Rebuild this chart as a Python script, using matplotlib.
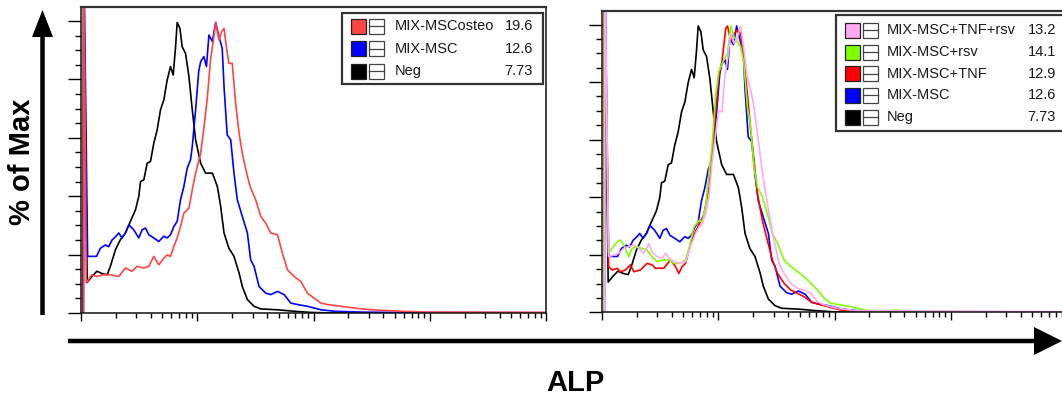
import matplotlib
matplotlib.use("Agg")
import matplotlib.pyplot as plt
from matplotlib.patches import Rectangle, FancyArrow
from matplotlib.lines import Line2D
from matplotlib.ticker import MultipleLocator, LogLocator, NullFormatter

plt.rcParams['font.family'] = ['Liberation Sans', 'DejaVu Sans']

# ---------------- data (ALP intensity, % of max) ----------------
neg_x = [1.04, 1.05, 1.13, 1.24, 1.37, 1.52, 1.68, 1.79, 1.98, 2.18, 2.41, 2.66,
         2.94, 3.14, 3.25, 3.47, 3.71, 3.96, 4.23, 4.52, 4.83, 5.16,
         5.51, 5.89, 6.21, 6.51, 6.72, 7.09, 7.42, 7.93, 8.48, 9.06,
         9.68, 10.7, 11.8, 13.5, 14.9, 15.9, 17.0, 18.7, 20.7, 22.9,
         24.4, 27.0, 30.8, 35.2, 49.0, 68.1, 94.8, 132, 10000]
neg_y = [0, 120, 10.5, 12.5, 14.3, 13.5, 13.1, 16.0, 21.7, 25.1, 27.4, 31.4,
         35.3, 39.9, 45.0, 45.6, 51.3, 51.9, 58.2, 62.7, 69.6, 73.0,
         79.8, 84.4, 81.5, 91.2, 99.5, 97.5, 91.2, 88.9, 81.0, 69.6,
         59.3, 51.3, 47.9, 47.9, 43.3, 36.5, 27.4, 22.2, 19.4, 13.7,
         9.1, 4.6, 2.3, 1.4, 1.1, 0.6, 0.2, 0.05, 0.05]

msc_x = [1.05, 1.06, 1.14, 1.36, 1.47, 1.62, 1.73, 1.85, 1.98, 2.11, 2.26, 2.41,
         2.58, 2.84, 3.14, 3.36, 3.59, 3.83, 4.23, 4.67, 5.16, 5.51,
         5.89, 6.29, 6.72, 7.18, 7.67, 8.20, 8.76, 9.06, 9.68, 10.3,
         10.7, 11.4, 12.0, 12.6, 13.5, 14.4, 15.4, 16.4, 17.0, 18.1,
         19.4, 20.7, 22.1, 24.4, 27.0, 28.8, 30.8, 34.0, 38.8, 42.9,
         49.0, 55.9, 63.8, 72.8, 88.7, 116, 151, 256, 496, 10000]
msc_y = [0, 120, 19.4, 19.4, 22.2, 23.3, 22.7, 25.0, 26.1, 27.4, 25.7, 27.4,
         30.2, 28.5, 25.7, 28.5, 29.1, 26.8, 25.7, 24.5, 26.3, 25.7,
         26.8, 29.6, 31.4, 38.8, 43.3, 49.6, 52.5, 57.0, 69.6, 82.8,
         86.1, 87.8, 84.4, 95.2, 93.0, 99.5, 94.6, 90.6, 77.5, 61.0,
         59.3, 47.9, 38.8, 33.1, 27.4, 18.2, 16.0, 9.1, 6.8, 6.3,
         7.4, 6.3, 3.4, 2.9, 2.3, 1.1, 0.6, 0.3, 0.2, 0.1]

osteo_x = [1.05, 1.06, 1.11, 1.24, 1.37, 1.57, 1.79, 2.11, 2.41, 2.75, 3.04, 3.47,
           3.83, 4.23, 4.67, 5.16, 5.51, 5.89, 6.29, 6.72, 7.18, 7.67,
           8.48, 9.06, 9.68, 10.7, 11.4, 12.2, 13.0, 13.9, 14.4, 15.4,
           16.2, 17.0, 17.8, 18.7, 20.0, 21.4, 22.9, 24.4, 27.0, 28.8,
           31.8, 35.2, 38.8, 42.9, 49.0, 54.0, 59.7, 68.1, 77.8, 88.7,
           101, 116, 132, 172, 224, 312, 566, 961, 10000]
osteo_y = [0, 120, 10.3, 13.1, 12.5, 13.1, 13.1, 12.5, 15.4, 14.3, 16.0, 15.4,
           16.0, 19.4, 16.5, 18.8, 19.9, 19.4, 22.8, 25.7, 29.6, 34.2,
           35.9, 42.2, 47.9, 54.7, 63.3, 73.6, 86.7, 94.6, 99.5, 93.5,
           96.4, 97.5, 91.2, 85.5, 85.5, 71.8, 61.6, 54.7, 46.8, 42.8,
           38.8, 33.1, 30.8, 27.4, 26.8, 20.5, 14.8, 12.5, 10.8, 6.8,
           5.1, 3.4, 2.9, 2.3, 1.7, 1.1, 0.6, 0.3, 0.2]

rsv_x = [1.04, 1.05, 1.14, 1.22, 1.35, 1.44, 1.54, 1.70, 1.81, 2.00, 2.21, 2.44,
         2.70, 2.98, 3.40, 3.75, 4.15, 4.73, 5.23, 5.59, 6.17, 6.81,
         7.28, 7.78, 8.31, 8.87, 9.48, 10.1, 10.8, 12.0, 12.8, 13.7,
         14.6, 15.6, 16.6, 17.8, 19.0, 20.3, 21.7, 23.9, 26.4, 29.2,
         32.3, 36.8, 42.0, 48.0, 54.8, 62.5, 71.3, 81.5, 92.9, 113,
         138, 180, 251, 349, 373, 10000]
rsv_y = [0, 120, 20.5, 22.2, 24.5, 25.1, 23.4, 19.3, 22.2, 22.8, 22.2, 21.6,
         19.3, 17.6, 18.2, 18.2, 17.0, 17.0, 18.2, 22.2, 29.6, 31.9,
         31.4, 36.6, 48.2, 58.6, 74.9, 83.6, 86.5, 89.9, 99.5, 95.7,
         94.0, 92.2, 86.5, 71.4, 64.5, 50.6, 43.6, 40.2, 34.4, 27.4,
         24.0, 18.2, 15.9, 14.2, 12.4, 10.1, 7.75, 4.86, 3.13, 2.55,
         1.97, 0.81, 0.23, 0.81, 0.23, 0.1]

tnf_x = [1.04, 1.05, 1.14, 1.22, 1.35, 1.44, 1.59, 1.75, 1.88, 2.14, 2.44, 2.70,
         2.88, 3.40, 3.88, 4.29, 4.58, 4.89, 5.23, 5.77, 6.17, 6.81,
         7.52, 8.31, 8.87, 9.48, 10.1, 10.8, 11.6, 12.0, 12.8, 13.7,
         14.6, 15.6, 16.6, 17.8, 19.0, 20.3, 21.7, 23.9, 26.4, 29.2,
         32.3, 36.8, 42.0, 48.0, 54.8, 62.5, 71.3, 87.1, 113, 158,
         10000]
tnf_y = [0, 120, 15.9, 14.7, 15.3, 14.1, 14.7, 16.5, 14.1, 14.7, 17.0, 16.5,
         15.3, 15.3, 18.2, 15.9, 13.5, 15.9, 17.0, 23.5, 27.0, 30.4,
         33.9, 43.2, 56.0, 69.1, 81.8, 87.6, 98.6, 99.5, 94.6, 96.9,
         98.0, 96.9, 87.6, 76.0, 63.4, 53.0, 41.3, 32.1, 25.1, 18.2,
         13.5, 10.1, 7.75, 6.6, 5.4, 3.7, 2.9, 1.97, 0.81, 0.23,
         0.1]

tnfrsv_x = [1.05, 1.06, 1.14, 1.26, 1.39, 1.54, 1.70, 1.88, 2.07, 2.29, 2.53, 2.70,
            2.98, 3.29, 3.52, 3.75, 4.15, 4.73, 5.23, 5.77, 6.38, 6.81,
            7.28, 7.78, 8.31, 8.87, 9.48, 10.1, 10.8, 11.3, 12.0, 12.8,
            13.7, 14.6, 15.6, 16.6, 17.8, 19.0, 20.3, 21.7, 23.2, 24.8,
            27.3, 30.2, 33.3, 36.8, 42.0, 48.0, 54.8, 62.5, 71.3, 81.5,
            106, 148, 10000]
tnfrsv_y = [0, 120, 19.3, 19.9, 20.5, 22.2, 22.8, 23.4, 22.2, 20.5, 23.9, 21.0,
            19.3, 18.8, 20.5, 18.8, 17.6, 17.0, 17.6, 22.8, 27.4, 29.6,
            30.8, 34.2, 40.0, 52.7, 62.0, 70.1, 69.6, 80.7, 87.6, 96.9,
            93.4, 95.7, 99.5, 91.1, 81.8, 77.2, 71.4, 62.2, 52.9, 44.8,
            34.4, 25.1, 17.0, 13.5, 10.1, 8.3, 7.75, 6.6, 3.7, 2.55,
            1.39, 0.58, 0.23]

left_labels = ["MIX-MSCosteo", "MIX-MSC", "Neg"]
left_values = ["19.6", "12.6", "7.73"]
right_labels = ["MIX-MSC+TNF+rsv", "MIX-MSC+rsv", "MIX-MSC+TNF", "MIX-MSC", "Neg"]
right_values = ["13.2", "14.1", "12.9", "12.6", "7.73"]

C_OSTEO = "#ff4444"
C_BLUE = "#0000ff"
C_BLACK = "#000000"
C_RED = "#ff0000"
C_GREEN = "#80ff00"
C_PINK = "#ffaaee"

W, H, DPI = 1062, 399, 100
fig = plt.figure(figsize=(W / DPI, H / DPI), dpi=DPI)
fig.patch.set_facecolor("white")


def P(px, py):
    return px / DPI, (H - py) / DPI


def make_axes(x0, x1, ytop, ybot, right_spine=True):
    ax = fig.add_axes([x0 / W, 1 - ybot / H, (x1 - x0) / W, (ybot - ytop) / H])
    ax.set_xscale("log")
    ax.set_xlim(1, 1e4)
    ax.set_ylim(0, 104.8)
    ax.xaxis.set_major_locator(LogLocator(base=10, numticks=10))
    ax.xaxis.set_minor_locator(LogLocator(base=10, subs=range(2, 10), numticks=20))
    ax.xaxis.set_major_formatter(NullFormatter())
    ax.xaxis.set_minor_formatter(NullFormatter())
    ax.yaxis.set_major_locator(MultipleLocator(20))
    ax.yaxis.set_minor_locator(MultipleLocator(5))
    ax.yaxis.set_major_formatter(NullFormatter())
    ax.tick_params(axis="x", which="major", length=6.0, width=1.0, direction="out")
    ax.tick_params(axis="x", which="minor", length=3.4, width=1.0, direction="out")
    ax.tick_params(axis="y", which="major", length=9.5, width=1.0, direction="out")
    ax.tick_params(axis="y", which="minor", length=4.5, width=1.0, direction="out")
    for s in ax.spines.values():
        s.set_linewidth(1.1)
        s.set_color("#111111")
    ax.spines["top"].set_color("#333333")
    ax.spines["top"].set_linewidth(1.6)
    if not right_spine:
        ax.spines["right"].set_visible(False)
    return ax


axL = make_axes(81, 546, 7, 313)
axR = make_axes(602, 1067, 10.7, 312.3, right_spine=False)

lw = 1.2
axL.plot(neg_x, neg_y, color=C_BLACK, lw=lw)
axL.plot(msc_x, msc_y, color=C_BLUE, lw=lw)
axL.plot(osteo_x, osteo_y, color=C_OSTEO, lw=lw)

axR.plot(neg_x, neg_y, color=C_BLACK, lw=lw)
axR.plot(msc_x, msc_y, color=C_BLUE, lw=lw)
axR.plot(tnf_x, tnf_y, color=C_RED, lw=lw)
axR.plot(rsv_x, rsv_y, color=C_GREEN, lw=lw)
axR.plot(tnfrsv_x, tnfrsv_y, color=C_PINK, lw=lw)


def legend(box, rows, labels, values, colors, sq_x, gate_x, text_x, val_x):
    bx0, by0, bx1, by1 = box
    x, y = P(bx0, by1)
    fig.add_artist(Rectangle((x, y), (bx1 - bx0) / DPI, (by1 - by0) / DPI,
                             transform=fig.dpi_scale_trans, facecolor="white",
                             edgecolor="#333333", lw=1.6, zorder=5))
    for ry, lab, val, col in zip(rows, labels, values, colors):
        sx, sy = P(sq_x, ry + 7.5)
        fig.add_artist(Rectangle((sx, sy), 15 / DPI, 15 / DPI, transform=fig.dpi_scale_trans,
                                 facecolor=col, edgecolor="#222222", lw=0.9, zorder=6))
        gx, gy = P(gate_x, ry + 7.5)
        fig.add_artist(Rectangle((gx, gy), 15 / DPI, 15 / DPI, transform=fig.dpi_scale_trans,
                                 facecolor="white", edgecolor="#444444", lw=0.9, zorder=6))
        lx0, ly = P(gate_x, ry)
        lx1, _ = P(gate_x + 15, ry)
        fig.add_artist(Line2D([lx0, lx1], [ly, ly], transform=fig.dpi_scale_trans,
                              color="#444444", lw=0.9, zorder=7))
        tx, ty = P(text_x, ry)
        fig.text(tx / (W / DPI), ty / (H / DPI), lab, fontsize=10.5, color="#1a1a1a",
                 ha="left", va="center", zorder=8)
        vx, vy = P(val_x, ry)
        fig.text(vx / (W / DPI), vy / (H / DPI), val, fontsize=10.5, color="#1a1a1a",
                 ha="right", va="center", zorder=8)


legend((342, 13, 543, 84), [26, 48.5, 71], left_labels, left_values,
       [C_OSTEO, C_BLUE, C_BLACK], 351, 369, 395, 533)
legend((836, 15, 1075, 131), [30, 52, 73.5, 95, 117], right_labels, right_values,
       [C_PINK, C_GREEN, C_RED, C_BLUE, C_BLACK], 845, 863, 887, 1056)

# axis arrows
ax0, ay0 = P(42.5, 315)
_, ay1 = P(42.5, 10)
fig.add_artist(FancyArrow(ax0, ay0, 0, ay1 - ay0, width=0.045, head_width=0.21,
                          head_length=0.27, length_includes_head=True,
                          transform=fig.dpi_scale_trans, color="black", lw=0))
hx0, hy = P(68, 341)
hx1, _ = P(1062, 341)
fig.add_artist(FancyArrow(hx0, hy, hx1 - hx0, 0, width=0.045, head_width=0.28,
                          head_length=0.28, length_includes_head=True,
                          transform=fig.dpi_scale_trans, color="black", lw=0))

fig.text(22 / W, 1 - 162 / H, "% of Max", rotation=90, fontsize=21, fontweight="bold",
         ha="center", va="center")
fig.text(575 / W, 1 - 383 / H, "ALP", fontsize=21, fontweight="bold",
         ha="center", va="center")

fig.savefig("out.png", dpi=DPI, facecolor="white")
